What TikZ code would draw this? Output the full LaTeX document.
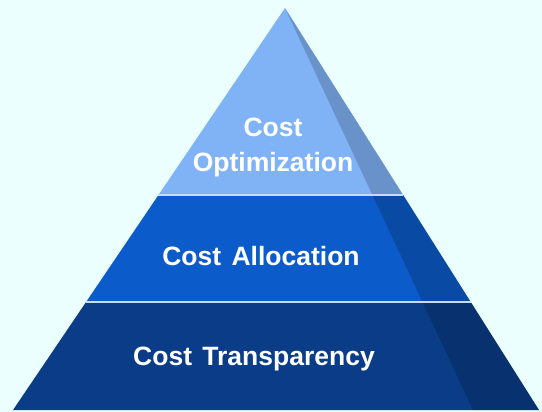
\documentclass[tikz,border=0pt]{standalone}
\usepackage{fontspec}
\setmainfont{Liberation Sans}
\usepackage{xcolor}
\usetikzlibrary{calc}
\definecolor{bgcyan}{HTML}{EBFFFF}
\definecolor{toplayer}{HTML}{80B3F6}
\definecolor{midlayer}{HTML}{0C5BCA}
\definecolor{botlayer}{HTML}{0A3C88}
\definecolor{seamline}{HTML}{C6DDFA}
\tikzset{
	layertext/.style={text=white, font=\bfseries\fontsize{26.5}{35}\selectfont, align=center},
	seam/.style={draw=seamline, line width=2pt}
}

\begin{document}
\begin{tikzpicture}[x=1pt, y=-1pt]
	\fill[bgcyan] (0,0) rectangle (542,412);
	\useasboundingbox (0,0) rectangle (542,412);
	\coordinate (apex) at (285,8);
	\coordinate (bl) at (13,410);
	\coordinate (br) at (539,410);
	\coordinate (shade) at (473,410);
	\coordinate (l1) at ($(apex)!0.4652!(bl)$);
	\coordinate (r1) at ($(apex)!0.4652!(br)$);
	\coordinate (l2) at ($(apex)!0.7313!(bl)$);
	\coordinate (r2) at ($(apex)!0.7313!(br)$);
	\fill[toplayer] (apex) -- (r1) -- (l1) -- cycle;
	\fill[midlayer] (l1) -- (r1) -- (r2) -- (l2) -- cycle;
	\fill[botlayer] (l2) -- (r2) -- (br) -- (bl) -- cycle;
	% darker right face
	\fill[black, opacity=.18] (apex) -- (br) -- (shade) -- cycle;
	\draw[seam] (l1) -- (r1);
	\draw[seam] (l2) -- (r2);
	\node[layertext] (optim) at (273,147) {Cost\\Optimization};
	\node[layertext] (alloc) at (261,256) {Cost\ \hspace{3pt}Allocation};
	\node[layertext] (transp) at (254,359) {Cost\ \hspace{3pt}Transparency};
\end{tikzpicture}
\end{document}
